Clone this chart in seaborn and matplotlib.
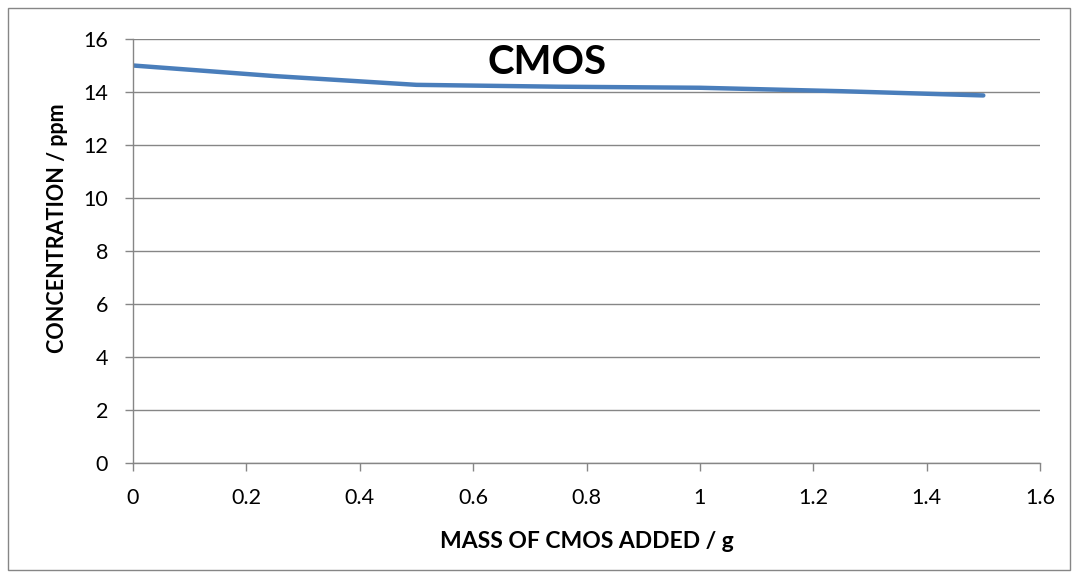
import matplotlib
matplotlib.use("Agg")
import matplotlib.pyplot as plt
import seaborn as sns
import pandas as pd
from matplotlib.patches import Rectangle

# Measured concentration after each addition of CMOS
mass_g = [0.0, 0.25, 0.5, 0.75, 1.0, 1.25, 1.5]
concentration_ppm = [15.0, 14.6, 14.27, 14.2, 14.16, 14.03, 13.87]

x_ticks = [0, 0.2, 0.4, 0.6, 0.8, 1, 1.2, 1.4, 1.6]
x_tick_labels = ["0", "0.2", "0.4", "0.6", "0.8", "1", "1.2", "1.4", "1.6"]
y_ticks = [0, 2, 4, 6, 8, 10, 12, 14, 16]

sns.set_theme(style="white")
plt.rcParams["font.family"] = ["Lato", "DejaVu Sans"]

df = pd.DataFrame({"mass": mass_g, "conc": concentration_ppm})

fig = plt.figure(figsize=(10.78, 5.78), dpi=100)
ax = fig.add_axes([133 / 1078, 115 / 578, (1040 - 133) / 1078, (463 - 39) / 578])

grid_color = "#868686"
sns.lineplot(data=df, x="mass", y="conc", ax=ax, color="#4A7EBB",
             linewidth=3.2, solid_capstyle="round", solid_joinstyle="round")

ax.set_xlim(0, 1.6)
ax.set_ylim(0, 16)
ax.set_xticks(x_ticks)
ax.set_xticklabels(x_tick_labels)
ax.set_yticks(y_ticks)
ax.yaxis.grid(True, color=grid_color, linewidth=1)
ax.xaxis.grid(False)
ax.set_axisbelow(True)

for side in ("top", "right"):
    ax.spines[side].set_visible(False)
for side in ("left", "bottom"):
    ax.spines[side].set_color(grid_color)
    ax.spines[side].set_linewidth(1)

ax.tick_params(axis="both", which="major", direction="out", length=6,
               width=1, color=grid_color, labelsize=15.5, labelcolor="black",
               bottom=True, left=True)
ax.tick_params(axis="x", pad=12)
ax.tick_params(axis="y", pad=12)

ax.set_xlabel("MASS OF CMOS ADDED / g", fontsize=16.5, fontweight="bold",
              color="black")
ax.set_ylabel("CONCENTRATION / ppm", fontsize=15.5, fontweight="bold",
              color="black")
ax.xaxis.set_label_coords(0.5, -(541 - 463) / 424, transform=ax.transAxes)
ax.xaxis.label.set_va("center")
ax.yaxis.set_label_coords(-(133 - 57) / 907, (463 - 228) / 424, transform=ax.transAxes)
ax.yaxis.label.set_va("center")

fig.text(547 / 1078, 1 - 62 / 578, "CMOS", fontsize=29, fontweight="bold",
         ha="center", va="center", color="black")

# Chart-area frame
fig.patches.append(Rectangle((8 / 1078, 8 / 578), (1070 - 8) / 1078, (570 - 8) / 578,
                             transform=fig.transFigure, fill=False,
                             edgecolor=grid_color, linewidth=1))

fig.savefig("out.png", dpi=100, facecolor="white")
